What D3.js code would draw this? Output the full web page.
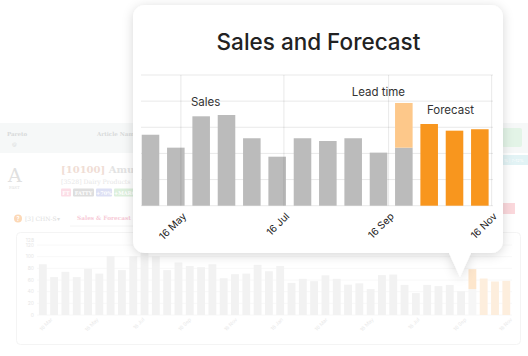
<!DOCTYPE html>
<html>
<head>
<meta charset="utf-8">
<script src="https://cdn.jsdelivr.net/npm/d3@7"></script>
<style>
  html, body { margin: 0; padding: 0; background: #ffffff; }
  svg { display: block; }
</style>
</head>
<body>
<div id="chart"></div>
<script>
// ---------------- DATA ----------------
// period centre dates (every ~15 days); the card shows the last 14
const periodDates = [
  "2021-03-04","2021-03-19","2021-04-03","2021-04-18","2021-05-03","2021-05-18",
  "2021-06-02","2021-06-17","2021-07-02","2021-07-17","2021-08-01","2021-08-16",
  "2021-08-31","2021-09-15","2021-09-30","2021-10-15","2021-10-30","2021-11-14",
  "2021-11-29","2021-12-14","2021-12-29","2022-01-13","2022-01-28","2022-02-12",
  "2022-02-27","2022-03-14","2022-03-29","2022-04-13","2022-04-28","2022-05-13",
  "2022-05-28","2022-06-12","2022-06-27","2022-07-12","2022-07-27","2022-08-11",
  "2022-08-26","2022-09-10","2022-09-25","2022-10-10","2022-10-25","2022-11-09"
];
// actual sales (first 39 periods; the 39th is the lead-time period)
const salesValues = [
  87, 65, 74, 65, 79, 71, 101, 77, 101, 110, 101, 77, 90, 84, 82, 87, 63, 70, 71,
  86, 75, 84, 55, 62, 58, 68, 62, 52, 54.3, 44.4, 68.4, 69.4, 51.6, 37.5, 51.6,
  49.5, 51.6, 40.6, 44.4
];
// lead-time total (period 39)
const leadTimeValues = [78.6];
// forecast (periods 40-42)
const forecastValues = [62.5, 57.4, 58.5];

const cardTickDates = ["2022-05-16","2022-07-16","2022-09-16","2022-11-16"];
const bgTickDates = ["2021-03-16","2021-05-16","2021-07-16","2021-09-16","2021-11-16",
  "2022-01-16","2022-03-16","2022-05-16","2022-07-16","2022-09-16","2022-11-16"];
const cardGridValues = [0, 20, 40, 60, 80, 100];
const bgTickValues = [0, 20, 40, 60, 80, 100, 120];
const cardTitle = "Sales and Forecast";
const tagLabels = ["FT", "FATTY", "+70%", "+MARG"];

// ---------------- BUILD ----------------
const W = 528, H = 356;
const parse = d3.timeParse("%Y-%m-%d");
const fmt = d3.timeFormat("%-d %b");
const DAY = 86400000;
const barDays = 10.4;

const nSales = salesValues.length;
const bars = periodDates.map((d, i) => {
  const date = parse(d);
  if (i < nSales - leadTimeValues.length) return { date, type: "sales", v0: 0, v1: salesValues[i] };
  if (i < nSales) return { date, type: "lead", v0: 0, v1: salesValues[i], lt: leadTimeValues[i - (nSales - leadTimeValues.length)] };
  return { date, type: "forecast", v0: 0, v1: forecastValues[i - nSales] };
});

const svg = d3.select("#chart").append("svg")
  .attr("width", W).attr("height", H)
  .attr("font-family", "Inter, 'Open Sans', sans-serif");

const defs = svg.append("defs");
const f = defs.append("filter").attr("id", "shadow")
  .attr("x", "-20%").attr("y", "-20%").attr("width", "140%").attr("height", "150%");
f.append("feDropShadow").attr("dx", 0).attr("dy", 2).attr("stdDeviation", 5.5)
  .attr("flood-color", "#000").attr("flood-opacity", 0.16);

svg.append("rect").attr("width", W).attr("height", H).attr("fill", "#fff");

// ---------- faded background dashboard ----------
const bg = svg.append("g");
const serif = "'DejaVu Serif', 'Liberation Serif', serif";

bg.append("rect").attr("x", 0).attr("y", 123).attr("width", W).attr("height", 30).attr("fill", "#f6f8f8");
bg.append("text").attr("x", 7).attr("y", 136).text("Pareto")
  .attr("font-family", serif).attr("font-size", 5.5).attr("font-weight", "bold").attr("fill", "#d8dada");
bg.append("text").attr("x", 12).attr("y", 146).text("@")
  .attr("font-family", serif).attr("font-size", 5).attr("fill", "#d8dada");
bg.append("text").attr("x", 97).attr("y", 136).text("Article Name")
  .attr("font-family", serif).attr("font-size", 5.5).attr("font-weight", "bold").attr("fill", "#d8dada");

bg.append("text").attr("x", 8).attr("y", 182).text("A")
  .attr("font-family", serif).attr("font-size", 19).attr("fill", "#e0e0e0");
bg.append("text").attr("x", 9).attr("y", 188.5).text("FAST")
  .attr("font-family", serif).attr("font-size", 4).attr("fill", "#e0e0e0");

const t1 = bg.append("text").attr("x", 61).attr("y", 172.5)
  .attr("font-family", serif).attr("font-size", 10).attr("font-weight", "bold");
t1.append("tspan").attr("fill", "#f0ddd5").text("[10100] ");
t1.append("tspan").attr("fill", "#e3e3e3").text("Amul Butter");
bg.append("text").attr("x", 61).attr("y", 184).text("[3528] Dairy Products")
  .attr("font-family", serif).attr("font-size", 6.2).attr("fill", "#e6e6e6");

const tagColors = ["#fcdde6", "#dedede", "#dde0f4", "#ddf0dd"];
const tagWidths = [10, 21, 16, 22];
let tx = 61;
tagLabels.forEach((t, i) => {
  bg.append("rect").attr("x", tx).attr("y", 188.5).attr("width", tagWidths[i]).attr("height", 8)
    .attr("rx", 1).attr("fill", tagColors[i]);
  bg.append("text").attr("x", tx + tagWidths[i] / 2).attr("y", 194.8).attr("text-anchor", "middle")
    .attr("font-family", serif).attr("font-size", 5).attr("font-weight", "bold").attr("fill", "#fff").text(t);
  tx += tagWidths[i] + 2;
});

bg.append("circle").attr("cx", 18).attr("cy", 218.5).attr("r", 4).attr("fill", "#fcd8b6");
bg.append("text").attr("x", 18).attr("y", 220.7).attr("text-anchor", "middle").attr("font-size", 5.5)
  .attr("font-weight", "bold").attr("fill", "#fff").text("?");
bg.append("text").attr("x", 25).attr("y", 221).text("[3] CHN-S")
  .attr("font-family", serif).attr("font-size", 6).attr("fill", "#dedede");
bg.append("text").attr("x", 57).attr("y", 221).text("▾").attr("font-size", 6).attr("fill", "#dedede");
bg.append("text").attr("x", 77).attr("y", 219.5).text("Sales & Forecast")
  .attr("font-family", serif).attr("font-size", 5.8).attr("font-weight", "bold").attr("fill", "#f7ccd8");
bg.append("line").attr("x1", 70).attr("x2", 135).attr("y1", 226).attr("y2", 226)
  .attr("stroke", "#f4f4f4").attr("stroke-width", 1);

// right-edge widgets (mostly hidden by card)
bg.append("rect").attr("x", 502).attr("y", 128).attr("width", 20).attr("height", 19).attr("rx", 2).attr("fill", "#e3f4e7");
bg.append("rect").attr("x", 502).attr("y", 155).attr("width", 26).attr("height", 10).attr("fill", "#e2f3f5");
bg.append("text").attr("x", 504).attr("y", 162).text("% | 7-12%").attr("font-size", 4).attr("fill", "#fff");
bg.append("rect").attr("x", 502).attr("y", 203).attr("width", 13).attr("height", 11).attr("fill", "#fbd8dc");

// background chart panel
bg.append("rect").attr("x", 16.5).attr("y", 232.5).attr("width", 504).attr("height", 112)
  .attr("rx", 4).attr("fill", "none").attr("stroke", "#f4f4f4");

const bx = d3.scaleTime()
  .domain([parse(periodDates[0]), parse(periodDates[periodDates.length - 1])])
  .range([42.8, 506.3]);
const by = d3.scaleLinear().domain([0, 120]).range([315, 245]);

bg.selectAll(".bgGrid").data(bgTickValues).join("line")
  .attr("x1", 37).attr("x2", 512)
  .attr("y1", d => by(d)).attr("y2", d => by(d))
  .attr("stroke", "#f8f8f8");
bg.selectAll(".bgYLab").data(bgTickValues).join("text")
  .attr("x", 34).attr("y", d => by(d) + 1.8).attr("text-anchor", "end")
  .attr("font-size", 5).attr("fill", "#e6e6e6").text(d => d);
bg.append("text").attr("x", 34).attr("y", 242).attr("text-anchor", "end")
  .attr("font-size", 5).attr("fill", "#e6e6e6").text("128");

const halfBg = (bx(new Date(+parse(periodDates[0]) + barDays * DAY)) - bx(parse(periodDates[0]))) / 2;
bg.selectAll(".bgBar").data(bars).join("rect")
  .attr("x", d => bx(d.date) - halfBg).attr("width", halfBg * 2)
  .attr("y", d => by(d.v1)).attr("height", d => by(d.v0) - by(d.v1))
  .attr("fill", d => d.type === "forecast" ? "#fdeedd" : (d.type === "lead" ? "#f6f6f6" : "#f2f2f2"));
bg.selectAll(".bgLead").data(bars.filter(d => d.type === "lead")).join("rect")
  .attr("x", d => bx(d.date) - halfBg).attr("width", halfBg * 2)
  .attr("y", d => by(d.lt)).attr("height", d => by(d.v1) - by(d.lt))
  .attr("fill", "#fde6cc");
bg.selectAll(".bgXLab").data(bgTickDates.map(parse)).join("text")
  .attr("transform", d => `translate(${bx(d) + 1},${320}) rotate(-45)`)
  .attr("text-anchor", "end").attr("font-size", 5).attr("fill", "#e8e8e8")
  .text(d => fmt(d));

// ---------- card ----------
const card = { x: 133, y: 5, w: 370, h: 248, r: 12 };
const ptr = { x0: 449, x1: 471, tipX: 460, tipY: 277 };
const p = d3.path();
p.moveTo(card.x + card.r, card.y);
p.lineTo(card.x + card.w - card.r, card.y);
p.arcTo(card.x + card.w, card.y, card.x + card.w, card.y + card.r, card.r);
p.lineTo(card.x + card.w, card.y + card.h - card.r);
p.arcTo(card.x + card.w, card.y + card.h, card.x + card.w - card.r, card.y + card.h, card.r);
p.lineTo(ptr.x1, card.y + card.h);
p.lineTo(ptr.tipX, ptr.tipY);
p.lineTo(ptr.x0, card.y + card.h);
p.lineTo(card.x + card.r, card.y + card.h);
p.arcTo(card.x, card.y + card.h, card.x, card.y + card.h - card.r, card.r);
p.lineTo(card.x, card.y + card.r);
p.arcTo(card.x, card.y, card.x + card.r, card.y, card.r);
p.closePath();
svg.append("path").attr("d", p.toString()).attr("fill", "#fff").attr("filter", "url(#shadow)");

svg.append("text").attr("x", 318.5).attr("y", 50).attr("text-anchor", "middle")
  .attr("font-size", 22.5).attr("font-weight", 500).attr("fill", "#222").text(cardTitle);

const cardBars = bars.slice(-14);
const x = d3.scaleTime()
  .domain([new Date(2022, 3, 22, 9), new Date(2022, 10, 16, 19)])
  .range([141, 493]);
const y = d3.scaleLinear().domain([0, 100]).range([205.7, 75]);

const g = svg.append("g");
g.selectAll(".hgrid").data(cardGridValues).join("line")
  .attr("x1", x.range()[0]).attr("x2", x.range()[1])
  .attr("y1", d => y(d)).attr("y2", d => y(d))
  .attr("stroke", "#e9e9e9").attr("stroke-width", 1);

const half = (x(new Date(+cardBars[0].date + barDays * DAY)) - x(cardBars[0].date)) / 2;
const colors = { sales: "#bbbbbb", lead: "#bbbbbb", forecast: "#f8961e" };
g.selectAll(".bar").data(cardBars).join("rect")
  .attr("x", d => x(d.date) - half).attr("width", half * 2)
  .attr("y", d => y(d.v1)).attr("height", d => y(d.v0) - y(d.v1))
  .attr("fill", d => colors[d.type]);
g.selectAll(".leadBar").data(cardBars.filter(d => d.type === "lead")).join("rect")
  .attr("x", d => x(d.date) - half).attr("width", half * 2)
  .attr("y", d => y(d.lt)).attr("height", d => y(d.v1) - y(d.lt))
  .attr("fill", "#fdc88a");

const ticks = cardTickDates.map(parse);
g.selectAll(".vgrid").data(ticks).join("line")
  .attr("x1", d => x(d)).attr("x2", d => x(d))
  .attr("y1", y(100)).attr("y2", y(0))
  .attr("stroke", "rgba(0,0,0,0.09)").attr("stroke-width", 1);

g.selectAll(".xlab").data(ticks).join("text")
  .attr("transform", d => `translate(${x(d) + 1},${212}) rotate(-45)`)
  .attr("text-anchor", "end").attr("dy", "0.7em")
  .attr("font-size", 10).attr("fill", "#222").text(d => fmt(d));

// annotations
const ann = [
  { text: "Sales", date: cardBars[2].date, value: 76, dx: 4.5 },
  { text: "Lead time", date: cardBars[10].date, value: 84, dx: -25.5 },
  { text: "Forecast", date: cardBars[12].date, value: 70, dx: -4 }
];
g.selectAll(".ann").data(ann).join("text")
  .attr("x", d => x(d.date) + d.dx).attr("y", d => y(d.value))
  .attr("text-anchor", "middle").attr("font-size", 11.5).attr("fill", "#333")
  .text(d => d.text);
</script>
</body>
</html>
